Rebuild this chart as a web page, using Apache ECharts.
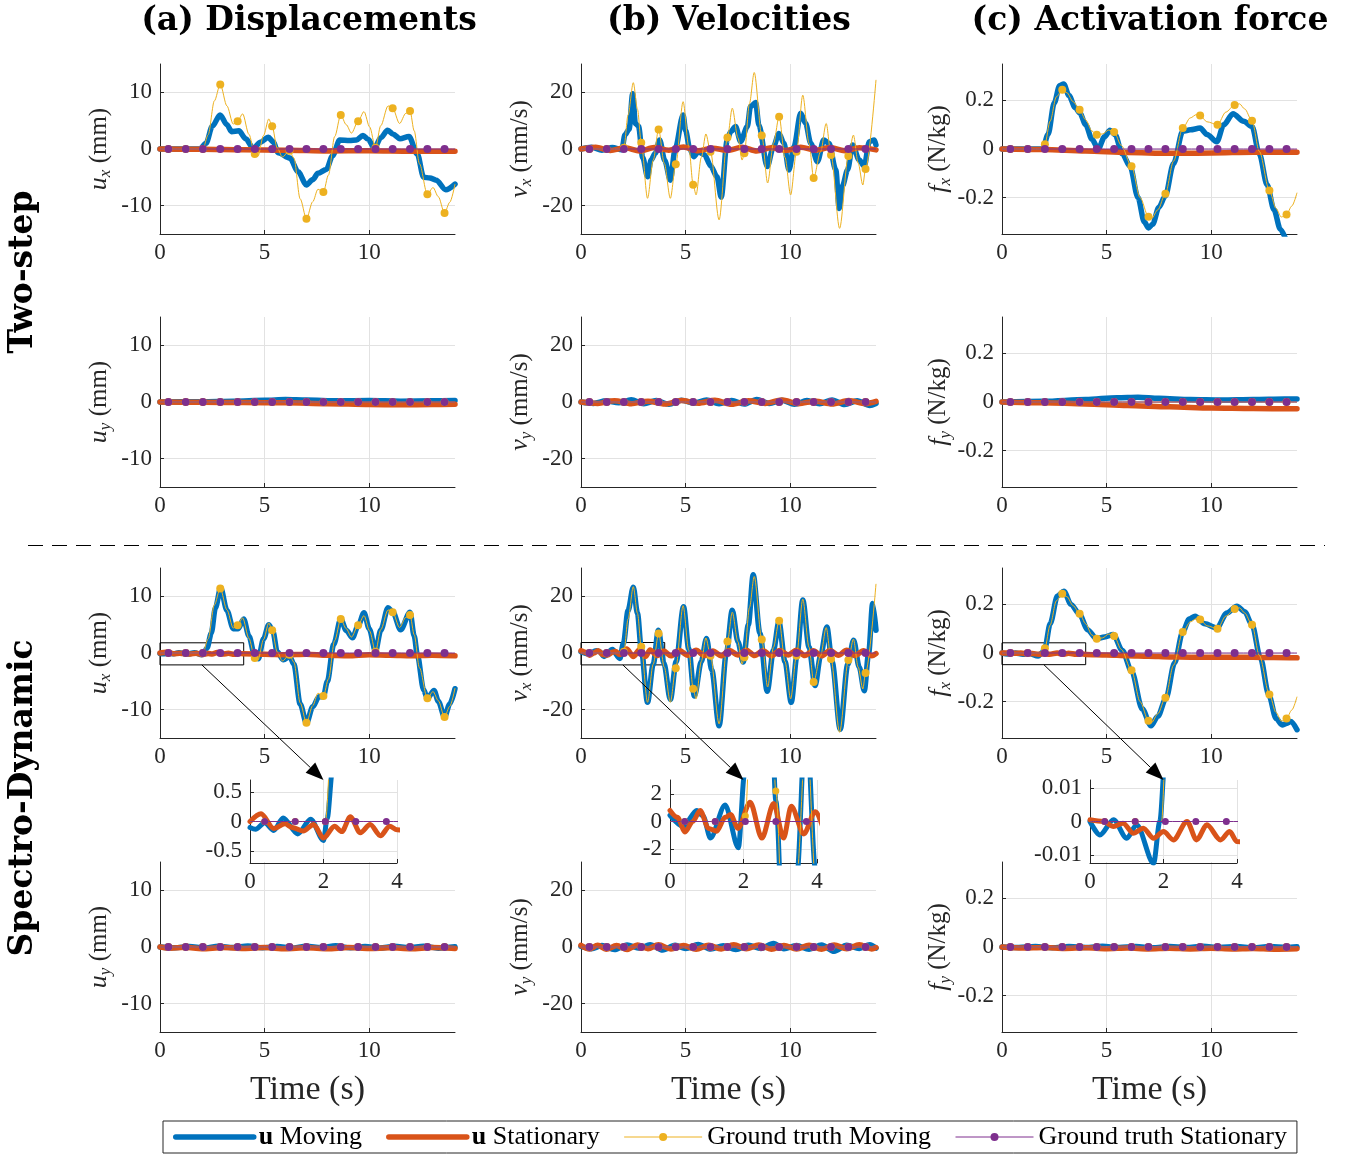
<!DOCTYPE html>
<html>
<head>
<meta charset="utf-8">
<script src="https://cdn.jsdelivr.net/npm/echarts@6/dist/echarts.min.js"></script>
<style>
html, body { margin: 0; padding: 0; background: #fff; }
#main { width: 1355px; height: 1154px; }
</style>
</head>
<body>
<div id="main"></div>
<script>
// sample times of the ground truth markers
var markT = [0.4, 1.23, 2.05, 2.88, 3.71, 4.53, 5.36, 6.19, 7.0, 7.81, 8.64, 9.47, 10.3, 11.12, 11.95, 12.78, 13.6];
var gtZeroVal = [0, 0, 0, 0, 0, 0, 0, 0, 0, 0, 0, 0, 0, 0, 0, 0, 0];

// ground truth x components (moving)
var gtUx = [[0,0],[0.4,0],[1.23,0],[2.05,0],[2.3,2.5],[2.6,8.5],[2.88,11.4],[3.2,7.6],[3.5,4.4],[3.71,4.9],[3.95,6.2],[4.25,2.6],[4.53,-0.9],[4.68,-1.3],[4.95,2.4],[5.2,5.3],[5.36,4.0],[5.6,0.2],[5.85,-1.4],[6.19,-0.3],[6.4,-1.6],[6.7,-8.8],[7.0,-12.3],[7.3,-9.3],[7.55,-7.1],[7.81,-7.6],[8.05,-4.6],[8.35,2.2],[8.64,6.0],[8.9,4.3],[9.15,2.8],[9.47,4.9],[9.75,6.6],[10.02,3.9],[10.3,0.2],[10.55,4.1],[10.9,7.6],[11.12,7.2],[11.45,4.5],[11.75,6.3],[11.95,6.7],[12.15,3.2],[12.4,-2.6],[12.78,-8.0],[13.05,-6.8],[13.3,-8.4],[13.6,-11.3],[13.85,-9.4],[14.1,-6.2]];
var gtVx = [[0,0],[0.4,0],[1.23,0],[1.95,0],[2.05,0.4],[2.25,12],[2.5,23.4],[2.7,14],[2.88,2.2],[3.18,-17.4],[3.45,-4],[3.71,6.9],[3.98,-5],[4.27,-17.4],[4.53,-5.4],[4.88,16.7],[5.15,1],[5.36,-12.6],[5.5,-16.2],[5.75,-3],[5.97,5.3],[6.19,-1],[6.6,-25],[7.0,4.1],[7.23,14.4],[7.5,4],[7.7,-3.9],[7.81,-1.5],[8.05,16],[8.28,27],[8.64,4.8],[8.92,-12],[9.2,2],[9.47,11.4],[9.75,-3],[10.02,-16.2],[10.3,-1],[10.6,19],[10.9,2],[11.12,-10.2],[11.45,-1],[11.72,9],[11.95,-2.1],[12.36,-28],[12.78,-2.5],[13.02,4.9],[13.25,-5],[13.47,-12.7],[13.6,-7.1],[14.1,24.4]];
var gtFx = [[0,0],[0.4,0],[1.23,0],[1.95,0],[2.05,0.02],[2.3,0.115],[2.6,0.215],[2.88,0.244],[3.1,0.232],[3.4,0.195],[3.71,0.162],[4.0,0.12],[4.3,0.074],[4.53,0.059],[4.8,0.062],[5.1,0.078],[5.36,0.07],[5.7,0.015],[6.19,-0.071],[6.6,-0.2],[7.0,-0.279],[7.15,-0.286],[7.45,-0.25],[7.81,-0.184],[8.2,-0.05],[8.64,0.086],[9.0,0.128],[9.3,0.142],[9.47,0.138],[9.8,0.112],[10.3,0.1],[10.7,0.152],[11.12,0.181],[11.35,0.186],[11.6,0.165],[11.95,0.116],[12.3,-0.01],[12.78,-0.171],[13.1,-0.245],[13.35,-0.28],[13.6,-0.27],[13.85,-0.235],[14.1,-0.18]];

// two-step estimates
var uxTsMov = [[0,0],[1.9,0],[2.2,1],[2.5,4],[2.87,6.0],[3.2,4.3],[3.42,3.05],[3.77,3.2],[4.1,1.8],[4.46,0.1],[4.8,1.2],[5.18,2.06],[5.4,1.3],[5.65,-0.65],[6.21,-1.6],[6.6,-4],[7.0,-6.35],[7.3,-5.4],[7.55,-4.3],[7.95,-3.6],[8.25,-1.2],[8.59,1.6],[9.06,1.5],[9.4,1.6],[9.7,2.4],[9.95,1.7],[10.25,0.1],[10.55,2],[10.88,3.3],[11.15,2.6],[11.47,1.8],[11.9,2.2],[12.3,-0.9],[12.6,-5],[12.9,-5.1],[13.2,-5.5],[13.66,-7.2],[14.1,-6.2]];
var uxTsSta = [[0,0],[2,-0.05],[4,-0.15],[6,-0.2],[8,-0.35],[10,-0.3],[12,-0.4],[14.1,-0.4]];
var vxTsMov = [[0,0],[0.5,0.6],[1.0,-0.4],[1.5,0.5],[1.95,-0.3],[2.1,5],[2.3,7],[2.47,19.5],[2.6,9],[2.75,8],[2.95,-3],[3.18,-9.8],[3.35,-3.9],[3.55,-1.5],[3.76,3.2],[4.0,-4],[4.27,-11],[4.5,0],[4.88,12],[5.0,6.5],[5.2,0],[5.39,-2.7],[5.6,-1],[5.9,-2],[6.2,-6],[6.5,-9.8],[6.7,-17],[6.99,3.2],[7.15,6.1],[7.39,7.9],[7.63,2.6],[7.95,7.9],[8.1,15],[8.35,16.4],[8.5,8.5],[8.9,-6.2],[9.2,0.8],[9.46,5.5],[9.7,2],[9.94,-7.4],[10.18,0.8],[10.5,12.6],[10.74,9],[10.98,2],[11.3,-4.5],[11.6,3.2],[11.85,2],[12.18,-7.4],[12.34,-21],[12.5,-13],[12.74,-7.4],[12.98,1.4],[13.3,-3.9],[13.54,-6],[13.78,2.6],[14.02,3.2],[14.1,1.4]];
var vxTsSta = [[0,0],[0.7,0.6],[1.4,-0.5],[2.1,0.4],[2.8,-0.7],[3.5,0.5],[4.2,-0.4],[4.9,0.7],[5.6,-0.6],[6.3,0.3],[7.0,-0.5],[7.7,0.6],[8.4,-0.7],[9.1,0.4],[9.8,-0.5],[10.5,0.6],[11.2,-0.4],[11.9,0.5],[12.6,-0.6],[13.3,0.4],[14.1,-0.3]];
var fxTsMov = [[0,0],[1.95,0],[2.2,0.06],[2.5,0.19],[2.75,0.26],[2.95,0.268],[3.2,0.22],[3.5,0.17],[3.72,0.148],[4.0,0.1],[4.3,0.04],[4.6,0],[4.9,0.05],[5.16,0.077],[5.4,0.06],[5.75,-0.02],[6.12,-0.071],[6.5,-0.2],[6.8,-0.3],[7.0,-0.325],[7.2,-0.31],[7.5,-0.24],[7.8,-0.195],[8.2,-0.06],[8.64,0.073],[9.0,0.079],[9.47,0.086],[9.8,0.06],[10.27,0.03],[10.6,0.1],[11.04,0.145],[11.55,0.114],[11.95,0.093],[12.3,-0.02],[12.67,-0.147],[13.0,-0.25],[13.3,-0.33],[13.6,-0.38]];
var fxTsSta = [[0,0],[2,-0.002],[4,-0.008],[6,-0.014],[8,-0.018],[10,-0.016],[12,-0.013],[14.1,-0.013]];

var uyTsMov = [[0,0],[2,0.05],[3.5,0.15],[5,0.3],[6,0.45],[7,0.35],[8.5,0.2],[10,0.25],[11.5,0.15],[13,0.2],[14.1,0.25]];
var uyTsSta = [[0,0],[2,-0.05],[4,-0.1],[6,-0.15],[8,-0.3],[10,-0.45],[11.5,-0.5],[13,-0.45],[14.1,-0.4]];
var vyTsMov = [[0,0],[0.6,-0.5],[1.2,0.4],[1.8,-0.3],[2.4,0.8],[3.0,-0.6],[3.6,0.5],[4.2,-0.8],[4.8,0.6],[5.4,-0.4],[6.0,0.7],[6.6,-0.6],[7.2,0.5],[7.8,-0.7],[8.4,0.9],[9.0,-0.5],[9.6,0.6],[10.2,-0.8],[10.8,0.5],[11.4,-0.6],[12.0,0.7],[12.6,-0.9],[13.2,0.4],[13.8,-1.2],[14.1,-0.5]];
var vyTsSta = [[0,0],[0.8,-0.5],[1.6,0.4],[2.4,-0.6],[3.2,0.3],[4.0,-0.7],[4.8,0.5],[5.6,-0.4],[6.4,0.6],[7.2,-0.8],[8.0,0.4],[8.8,-0.5],[9.6,0.7],[10.4,-0.6],[11.2,0.3],[12.0,-0.7],[12.8,0.5],[13.6,-0.6],[14.1,0.2]];
var fyTsMov = [[0,0],[2,0.003],[4,0.01],[5.5,0.018],[6.5,0.02],[7.5,0.015],[9,0.01],[10.5,0.008],[12,0.01],[13.5,0.012],[14.1,0.012]];
var fyTsSta = [[0,0],[2,-0.003],[4,-0.008],[6,-0.014],[8,-0.02],[10,-0.025],[12,-0.027],[14.1,-0.028]];

// spectro-dynamic estimates
var uxSdMov = [[0,-0.1],[0.15,-0.13],[0.4,-0.02],[0.65,-0.15],[0.9,0.06],[1.3,-0.21],[1.65,0.04],[2.0,-0.32],[2.1,0.05],[2.25,0.9],[2.45,3.5],[2.65,8],[2.9,11.5],[3.2,7.5],[3.5,4.3],[3.74,4.3],[4.0,6.0],[4.25,3.0],[4.55,-0.9],[4.7,-1.0],[4.95,2.5],[5.2,5.0],[5.4,3.8],[5.6,0.2],[5.9,-1.2],[6.2,-0.6],[6.4,-2],[6.7,-9],[7.0,-12.4],[7.3,-9.5],[7.6,-7.7],[7.81,-7.7],[8.0,-5],[8.3,1.5],[8.64,6.0],[8.9,4.0],[9.2,2.7],[9.47,4.8],[9.75,7.1],[10.0,4.3],[10.3,0.3],[10.55,4],[10.9,8.0],[11.12,7.3],[11.5,4.1],[11.95,7.2],[12.15,3],[12.3,-0.3],[12.6,-6.5],[12.78,-8],[13.1,-6.6],[13.3,-8.5],[13.6,-11.3],[13.85,-9],[14.1,-6.3]];
var uxSdSta = [[0,0],[0.3,0.13],[0.65,-0.12],[0.95,-0.04],[1.15,-0.1],[1.45,-0.16],[1.73,-0.05],[2.0,-0.28],[2.3,-0.08],[2.5,-0.17],[2.73,0.08],[3.0,-0.19],[3.27,-0.05],[3.55,-0.24],[3.8,-0.08],[4.0,-0.14],[5,-0.2],[6,-0.3],[7,-0.2],[8,-0.4],[9,-0.5],[10,-0.3],[11,-0.4],[12,-0.5],[13,-0.4],[14.1,-0.5]];
var vxSdMov = [[0,0.45],[0.36,-0.35],[0.73,0.8],[0.9,0.4],[1.1,-1.2],[1.5,1.2],[1.86,-1.9],[2.03,3.5],[2.25,15],[2.5,23.2],[2.7,14],[2.88,1.5],[3.18,-17.4],[3.45,-4],[3.7,8],[3.96,-3.5],[4.27,-16.4],[4.55,-3],[4.9,16.3],[5.15,1.5],[5.42,-15.2],[5.75,-3],[6.0,5.1],[6.25,-6],[6.6,-25.7],[6.95,0],[7.23,15.1],[7.5,4],[7.75,-3.2],[8.0,10],[8.23,27.6],[8.55,7],[8.9,-13.5],[9.2,1],[9.46,11],[9.75,-3],[10.05,-17.4],[10.32,-1],[10.6,18.7],[10.9,2],[11.19,-11.5],[11.45,-1],[11.75,9.2],[12.0,-3],[12.39,-26.9],[12.75,-4],[13.03,4.5],[13.3,-5],[13.54,-13.3],[13.75,0],[13.94,17.5],[14.1,8]];
var vxSdSta = [[0,0.8],[0.2,0.3],[0.41,-0.75],[0.62,0],[0.82,0.8],[1.05,-0.5],[1.27,-0.7],[1.5,0.3],[1.65,0.5],[1.85,-0.5],[2.18,1.4],[2.5,-1.2],[2.82,1.3],[3.09,-1.2],[3.3,1.1],[3.64,-0.9],[3.95,0.7],[4.3,-1],[4.7,0.9],[5.1,-0.8],[5.5,1],[5.9,-0.9],[6.3,0.7],[6.7,-1],[7.1,0.9],[7.5,-0.7],[7.9,1],[8.3,-0.9],[8.7,0.8],[9.1,-1],[9.5,0.9],[9.9,-0.7],[10.3,1],[10.7,-0.9],[11.1,0.8],[11.5,-1],[11.9,0.9],[12.3,-0.8],[12.7,1],[13.1,-0.9],[13.5,0.8],[13.9,-1],[14.1,-0.2]];
var fxSdMov = [[0,0],[0.27,-0.004],[0.64,0.0005],[1.0,-0.005],[1.27,-0.001],[1.73,-0.0125],[1.9,0],[2.05,0.02],[2.3,0.12],[2.65,0.235],[2.96,0.254],[3.3,0.2],[3.69,0.161],[4.1,0.095],[4.52,0.058],[4.9,0.066],[5.32,0.076],[5.75,0.01],[6.2,-0.076],[6.7,-0.23],[7.12,-0.3],[7.45,-0.26],[7.84,-0.186],[8.25,-0.04],[8.64,0.087],[8.95,0.14],[9.23,0.151],[9.7,0.12],[10.27,0.103],[10.75,0.165],[11.23,0.193],[11.6,0.17],[11.95,0.117],[12.35,-0.02],[12.75,-0.172],[13.1,-0.27],[13.39,-0.296],[13.6,-0.29],[13.8,-0.282],[14.1,-0.316]];
var fxSdSta = [[0,0.0005],[0.36,0],[0.64,-0.0015],[0.9,-0.0005],[1.18,-0.0035],[1.45,-0.002],[1.73,-0.005],[2.0,-0.003],[2.27,-0.0055],[2.64,0],[2.9,-0.0055],[3.18,-0.001],[3.55,-0.0055],[3.8,-0.003],[4.0,-0.006],[5,-0.008],[6,-0.011],[7,-0.013],[8,-0.016],[9,-0.017],[10,-0.018],[11,-0.017],[12,-0.018],[13,-0.019],[14.1,-0.02]];

var uySdMov = [[0,0],[0.7,-0.15],[1.4,0.1],[2.1,-0.2],[2.8,0.12],[3.5,-0.1],[4.2,0.18],[4.9,-0.15],[5.6,0.1],[6.3,-0.2],[7.0,0.15],[7.7,-0.1],[8.4,0.2],[9.1,-0.15],[9.8,0.1],[10.5,-0.18],[11.2,0.12],[11.9,-0.1],[12.6,0.15],[13.3,-0.2],[14.1,0.05]];
var uySdSta = [[0,0],[0.5,-0.2],[1.2,-0.05],[2,-0.3],[3,-0.1],[4,-0.25],[5,-0.1],[6,-0.3],[7,-0.15],[8,-0.3],[9,-0.1],[10,-0.25],[11,-0.15],[12,-0.3],[13,-0.1],[14.1,-0.25]];
var vySdMov = [[0,0.2],[0.5,-0.6],[1.0,0.5],[1.6,-0.9],[2.2,0.7],[2.8,-0.4],[3.3,0.8],[3.9,-1.1],[4.5,0.6],[5.0,-0.5],[5.6,0.9],[6.2,-0.7],[6.8,0.4],[7.4,-0.9],[8.0,0.6],[8.6,-0.5],[9.2,1.2],[9.7,-0.6],[10.3,0.5],[10.9,-0.8],[11.5,0.7],[12.1,-1.5],[12.7,0.6],[13.3,-0.5],[13.8,0.8],[14.1,-0.4]];
var vySdSta = [[0,0.6],[0.4,-0.7],[0.8,0.6],[1.2,-0.8],[1.7,0.5],[2.2,-0.9],[2.7,0.7],[3.2,-0.6],[3.7,0.8],[4.3,-0.7],[4.9,0.5],[5.5,-0.8],[6.1,0.6],[6.7,-0.7],[7.3,0.8],[7.9,-0.6],[8.5,0.7],[9.1,-0.8],[9.7,0.5],[10.3,-0.7],[10.9,0.6],[11.5,-0.8],[12.1,0.7],[12.7,-0.6],[13.3,0.8],[13.9,-0.7],[14.1,-0.2]];
var fySdMov = [[0,0],[0.8,-0.002],[1.6,0.002],[2.4,-0.003],[3.2,0.002],[4.0,-0.002],[4.8,0.003],[5.6,-0.002],[6.4,0.002],[7.2,-0.003],[8.0,0.002],[8.8,-0.002],[9.6,0.003],[10.4,-0.002],[11.2,0.002],[12.0,-0.003],[12.8,0.002],[13.6,-0.002],[14.1,0.001]];
var fySdSta = [[0,0],[1,-0.004],[2,-0.002],[3,-0.006],[4,-0.003],[5,-0.007],[6,-0.004],[7,-0.008],[8,-0.005],[9,-0.008],[10,-0.005],[11,-0.008],[12,-0.006],[13,-0.009],[14.1,-0.007]];

// zoomed boxes (x 0..4) in row 3, y limits per column
var zoomBoxY = [[-2.1, 1.8], [-4.2, 3.7], [-0.048, 0.042]];

var C_BLUE = '#0072BD', C_ORANGE = '#D95319', C_YELLOW = '#EDB120', C_PURPLE = '#7E2F8E';
var AX = '#262626', GRID_C = '#e2e2e2';
var FONT_R = '"Liberation Serif", serif', FONT_B = '"DejaVu Serif", serif';

var xMax = 14.1;
var colRange = [15, 30, 0.35];
var insetRange = [0.7, 3, 0.0124];
var colLeft = [160, 581, 1002];
var rowTop = [64, 317, 568, 862];
var insetLeft = [250, 670, 1090];
var ySym = ['u', 'v', 'f'];
var yUnit = ['mm', 'mm/s', 'N/kg'];
var comp = ['x', 'y'];

var panels = [
	[[uxTsMov, uxTsSta, gtUx], [vxTsMov, vxTsSta, gtVx], [fxTsMov, fxTsSta, gtFx]],
	[[uyTsMov, uyTsSta, null], [vyTsMov, vyTsSta, null], [fyTsMov, fyTsSta, null]],
	[[uxSdMov, uxSdSta, gtUx], [vxSdMov, vxSdSta, gtVx], [fxSdMov, fxSdSta, gtFx]],
	[[uySdMov, uySdSta, null], [vySdMov, vySdSta, null], [fySdMov, fySdSta, null]]
];

function zeroLine() {
	var arr = [[0, 0]];
	for (var i = 0; i < markT.length; i++) arr.push([markT[i], gtZeroVal[i]]);
	arr.push([xMax, 0]);
	return arr;
}

function gtData(line) {
	return line.map(function (p) {
		if (markT.indexOf(p[0]) >= 0) return { value: p };
		return { value: p, symbol: 'none' };
	});
}

function xAxisOpt(gi, max, split, name, inset) {
	return {
		type: 'value', gridIndex: gi, min: 0, max: max, splitNumber: split,
		name: name, nameLocation: 'middle', nameGap: 41,
		nameTextStyle: { fontFamily: FONT_R, fontSize: 34, color: AX },
		axisLine: { show: true, onZero: false, lineStyle: { color: AX, width: 1 } },
		axisTick: { show: true, inside: true, length: 4, lineStyle: { color: AX } },
		axisLabel: { margin: 7, fontFamily: FONT_R, fontSize: 23, color: AX, showMinLabel: true, showMaxLabel: inset },
		splitLine: { show: true, showMinLine: false, showMaxLine: inset, lineStyle: { color: GRID_C, width: 1 } }
	};
}

function yAxisOpt(gi, range, name) {
	return {
		type: 'value', gridIndex: gi, min: -range, max: range, splitNumber: 3,
		name: name, nameLocation: 'middle', nameGap: 46, nameRotate: 90,
		nameTextStyle: {
			color: AX,
			rich: {
				i: { fontFamily: FONT_R, fontStyle: 'italic', fontSize: 26, color: AX, lineHeight: 30 },
				s: { fontFamily: FONT_R, fontStyle: 'italic', fontSize: 17, color: AX, lineHeight: 16, verticalAlign: 'bottom' },
				t: { fontFamily: FONT_R, fontSize: 25, color: AX, lineHeight: 30 }
			}
		},
		axisLine: { show: true, onZero: false, lineStyle: { color: AX, width: 1 } },
		axisTick: { show: true, inside: true, length: 4, lineStyle: { color: AX } },
		axisLabel: { margin: 8, fontFamily: FONT_R, fontSize: 23, color: AX, showMinLabel: false, showMaxLabel: false },
		splitLine: { show: true, showMinLine: false, showMaxLine: false, lineStyle: { color: GRID_C, width: 1 } }
	};
}

function lineSeries(name, gi, data, color, width) {
	return {
		name: name, type: 'line', xAxisIndex: gi, yAxisIndex: gi,
		data: data, smooth: 0.3, smoothMonotone: 'x', symbol: 'none',
		lineStyle: { color: color, width: width, cap: 'round', join: 'round' },
		itemStyle: { color: color },
		emphasis: { disabled: true }, animation: false
	};
}

function gtSeries(name, gi, line, color, size) {
	return {
		name: name, type: 'line', xAxisIndex: gi, yAxisIndex: gi,
		data: gtData(line), smooth: 0.3, smoothMonotone: 'x',
		symbol: 'circle', symbolSize: size, showSymbol: true, showAllSymbol: true,
		lineStyle: { color: color, width: 1 },
		itemStyle: { color: color, borderWidth: 0 },
		emphasis: { disabled: true }, animation: false
	};
}

function panelSeries(gi, p, lw, dot) {
	var gtMov = p[2] ? p[2] : zeroLine();
	return [
		lineSeries('u Moving', gi, p[0], C_BLUE, lw),
		lineSeries('u Stationary', gi, p[1], C_ORANGE, lw),
		gtSeries('Ground truth Moving', gi, gtMov, C_YELLOW, dot),
		gtSeries('Ground truth Stationary', gi, zeroLine(), C_PURPLE, dot)
	];
}

var grids = [], xAxes = [], yAxes = [], series = [];
for (var r = 0; r < 4; r++) {
	for (var c = 0; c < 3; c++) {
		var gi = r * 3 + c;
		grids.push({ left: colLeft[c], top: rowTop[r], width: 295, height: 170 });
		xAxes.push(xAxisOpt(gi, xMax, 3, r === 3 ? 'Time (s)' : '', false));
		yAxes.push(yAxisOpt(gi, colRange[c], '{i|' + ySym[c] + '}{s|' + comp[r % 2] + '}{t| (' + yUnit[c] + ')}'));
		var ps = panelSeries(gi, panels[r][c], 5.5, 8);
		if (r === 2) {
			ps[3].markArea = {
				silent: true,
				itemStyle: { color: 'rgba(0,0,0,0)', borderColor: '#000', borderWidth: 1 },
				data: [[{ coord: [0, zoomBoxY[c][1]] }, { coord: [4, zoomBoxY[c][0]] }]]
			};
		}
		series = series.concat(ps);
	}
}
for (var k = 0; k < 3; k++) {
	var gk = 12 + k;
	grids.push({ left: insetLeft[k], top: 780, width: 147, height: 83, show: true, backgroundColor: '#fff', borderWidth: 0 });
	xAxes.push(xAxisOpt(gk, 4, 2, '', true));
	yAxes.push(yAxisOpt(gk, insetRange[k], ''));
	series = series.concat(panelSeries(gk, panels[2][k], 5, 7));
}

var option = {
	backgroundColor: '#fff',
	animation: false,
	grid: grids,
	xAxis: xAxes,
	yAxis: yAxes,
	series: series,
	legend: {
		left: 163, top: 1121,
		padding: [3, 10, 3, 10],
		borderColor: AX, borderWidth: 1, borderRadius: 0,
		itemGap: 24, itemWidth: 78, itemHeight: 10,
		selectedMode: false,
		textStyle: {
			fontFamily: FONT_R, fontSize: 26, color: '#000',
			rich: { b: { fontFamily: FONT_R, fontSize: 26, fontWeight: 'bold', color: '#000' } }
		},
		formatter: function (name) {
			return name.indexOf('u ') === 0 ? '{b|u}' + name.slice(1) : name;
		},
		data: [
			{ name: 'u Moving', itemStyle: { opacity: 0 }, lineStyle: { width: 5.5, color: C_BLUE } },
			{ name: 'u Stationary', itemStyle: { opacity: 0 }, lineStyle: { width: 5.5, color: C_ORANGE } },
			{ name: 'Ground truth Moving', lineStyle: { width: 1, color: C_YELLOW } },
			{ name: 'Ground truth Stationary', lineStyle: { width: 1, color: C_PURPLE } }
		]
	}
};

var chart = echarts.init(document.getElementById('main'));
chart.setOption(option);

var titles = ['(a) Displacements', '(b) Velocities', '(c) Activation force'];
var titleX = [309, 729, 1150];
var gr = [];
for (var t = 0; t < 3; t++) {
	gr.push({
		type: 'text', x: titleX[t], y: 21, z: 50,
		style: { text: titles[t], fontFamily: FONT_B, fontWeight: 'bold', fontSize: 33, fill: '#000', align: 'center', verticalAlign: 'middle', textAlign: 'center', textVerticalAlign: 'middle' }
	});
}
var rowLabels = [['Two-step', 272], ['Spectro-Dynamic', 798]];
rowLabels.forEach(function (rl) {
	gr.push({
		type: 'text', x: 23, y: rl[1], rotation: Math.PI / 2, z: 50,
		style: { text: rl[0], fontFamily: FONT_B, fontWeight: 'bold', fontSize: 33, fill: '#000', align: 'center', verticalAlign: 'middle', textAlign: 'center', textVerticalAlign: 'middle' }
	});
});
gr.push({
	type: 'line', z: 50,
	shape: { x1: 28, y1: 545.5, x2: 1325, y2: 545.5 },
	style: { stroke: '#000', lineWidth: 1, lineDash: [15, 9] }
});

// arrows from the zoom boxes to the insets
for (var a = 0; a < 3; a++) {
	var p0 = chart.convertToPixel({ xAxisIndex: 6 + a, yAxisIndex: 6 + a }, [2, zoomBoxY[a][0]]);
	var p1 = chart.convertToPixel({ xAxisIndex: 12 + a, yAxisIndex: 12 + a }, [2, insetRange[a]]);
	var dx = p1[0] - p0[0], dy = p1[1] - p0[1];
	var len = Math.sqrt(dx * dx + dy * dy);
	var ux = dx / len, uy = dy / len;
	var L = 18, W = 7;
	var bx = p1[0] - ux * L, by = p1[1] - uy * L;
	gr.push({
		type: 'line', z: 60,
		shape: { x1: p0[0], y1: p0[1], x2: bx, y2: by },
		style: { stroke: '#000', lineWidth: 1 }
	});
	gr.push({
		type: 'polygon', z: 60,
		shape: { points: [[p1[0], p1[1]], [bx - uy * W, by + ux * W], [bx + uy * W, by - ux * W]] },
		style: { fill: '#000' }
	});
}
chart.setOption({ graphic: { elements: gr } });
</script>
</body>
</html>
